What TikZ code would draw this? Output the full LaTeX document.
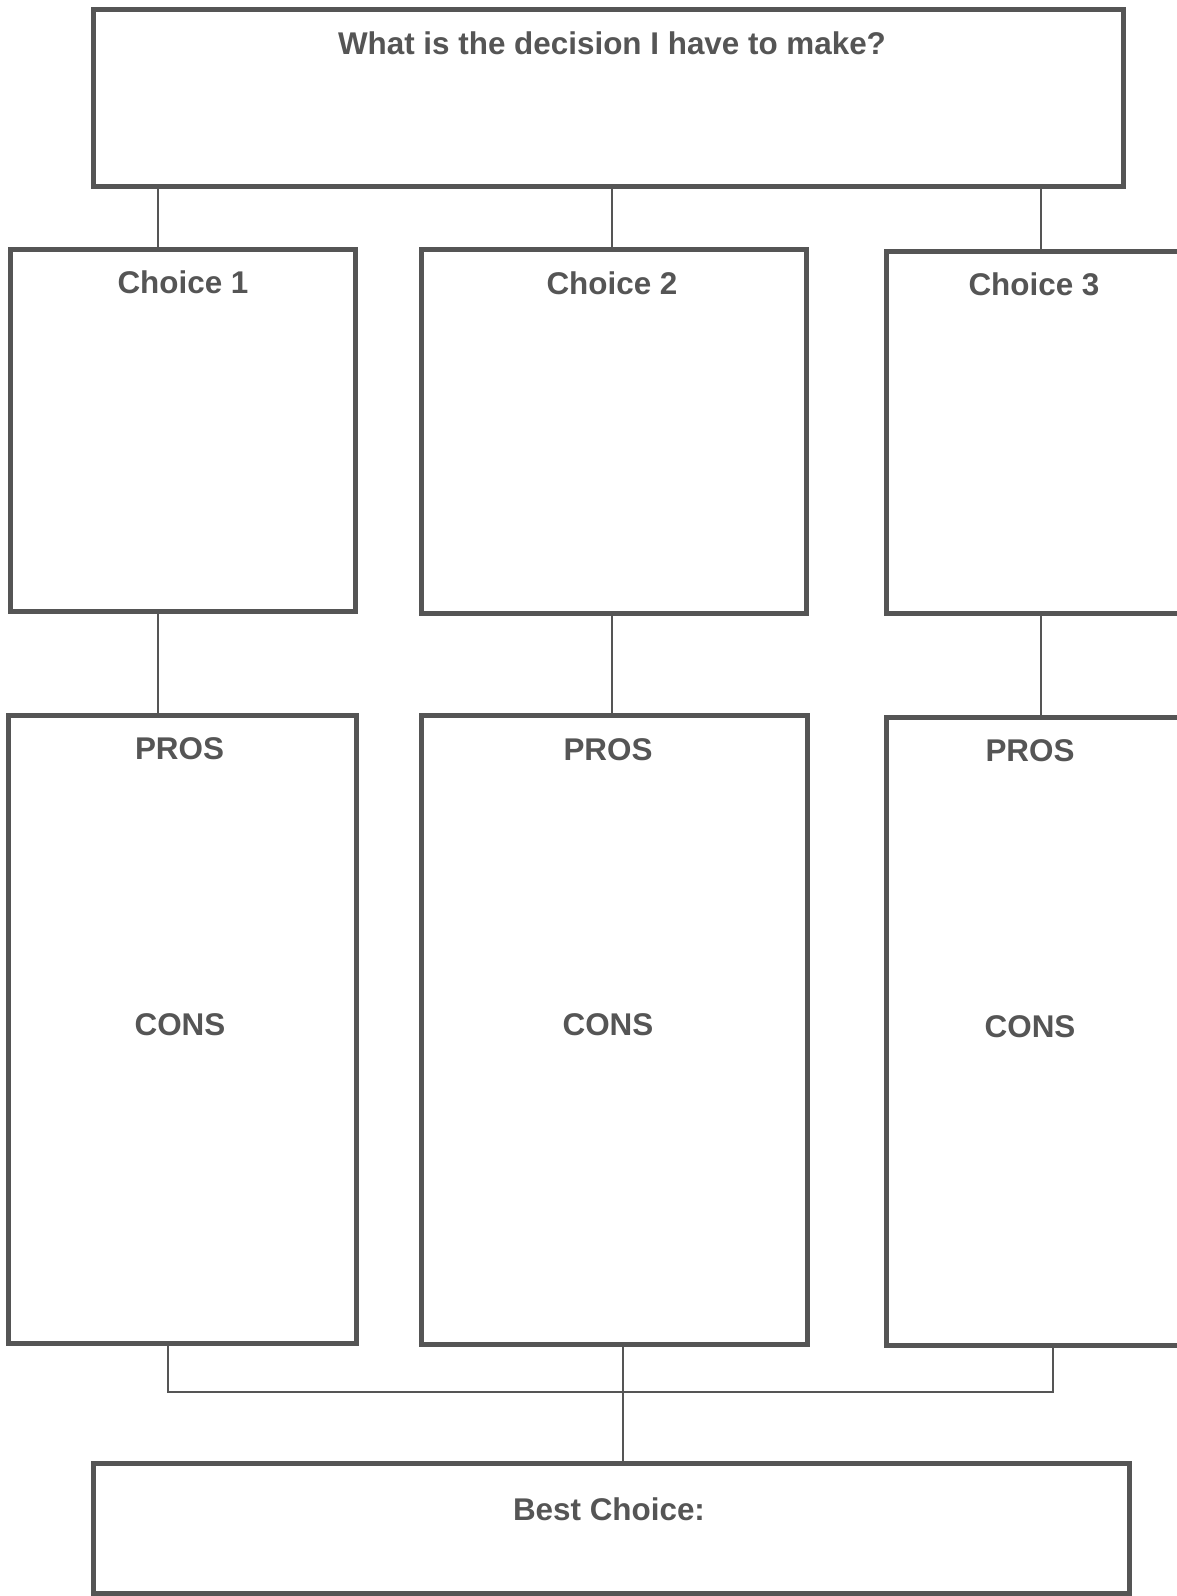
\documentclass[tikz,border=0pt]{standalone}
\usepackage{fontspec}
\setmainfont{Liberation Sans}
\definecolor{ink}{RGB}{85,85,85}
\begin{document}
\begin{tikzpicture}[x=1pt,y=-1pt,
  box/.style={draw=ink, line width=5pt, rectangle, inner sep=0pt},
  conn/.style={draw=ink, line width=2.3pt},
  lbl/.style={text=ink, font=\fontsize{31.4}{37}\selectfont\bfseries, anchor=base, inner sep=0pt}]
\useasboundingbox (0,0) rectangle (1177,1596);
\fill[white] (0,0) rectangle (1177,1596);
\clip (0,0) rectangle (1177,1596);
% boxes
\node[box, minimum width=1030, minimum height=177] (top) at (608,97.5) {};
\node[box, minimum width=345, minimum height=362] (c1) at (182.5,430) {};
\node[box, minimum width=385, minimum height=364] (c2) at (613.5,431) {};
\node[box, minimum width=414, minimum height=362] (c3) at (1093,432) {};
\node[box, minimum width=348, minimum height=628] (p1) at (182,1029) {};
\node[box, minimum width=386, minimum height=629] (p2) at (614,1029.5) {};
\node[box, minimum width=414, minimum height=628] (p3) at (1093,1031) {};
\node[box, minimum width=1036, minimum height=130] (best) at (611,1528) {};
% labels
\node[lbl] (ttop) at (612,54) {What is the decision I have to make?};
\node[lbl] (tc1) at (183,293) {Choice 1};
\node[lbl] (tc2) at (612,294) {Choice 2};
\node[lbl] (tc3) at (1034,295) {Choice 3};
\node[lbl] (tp1) at (179.5,759) {PROS};
\node[lbl] (tn1) at (180,1035) {CONS};
\node[lbl] (tp2) at (608,760) {PROS};
\node[lbl] (tn2) at (608,1035) {CONS};
\node[lbl] (tp3) at (1030,761) {PROS};
\node[lbl] (tn3) at (1030,1037) {CONS};
\node[lbl] (tbest) at (609,1520) {Best Choice:};
% connector x positions
\coordinate (k1) at (158,0);
\coordinate (k2) at (612,0);
\coordinate (k3) at (1041,0);
\coordinate (b1) at (168,0);
\coordinate (b2) at (623,0);
\coordinate (b3) at (1053,0);
\coordinate (h) at (0,1392);
% connectors
\draw[conn] (top.south -| k1) -- (c1.north -| k1);
\draw[conn] (top.south -| k2) -- (c2.north -| k2);
\draw[conn] (top.south -| k3) -- (c3.north -| k3);
\draw[conn] (c1.south -| k1) -- (p1.north -| k1);
\draw[conn] (c2.south -| k2) -- (p2.north -| k2);
\draw[conn] (c3.south -| k3) -- (p3.north -| k3);
\draw[conn] (p1.south -| b1) -- (h -| b1) -- (h -| b3) -- (p3.south -| b3);
\draw[conn] (p2.south -| b2) -- (best.north -| b2);
\end{tikzpicture}
\end{document}
